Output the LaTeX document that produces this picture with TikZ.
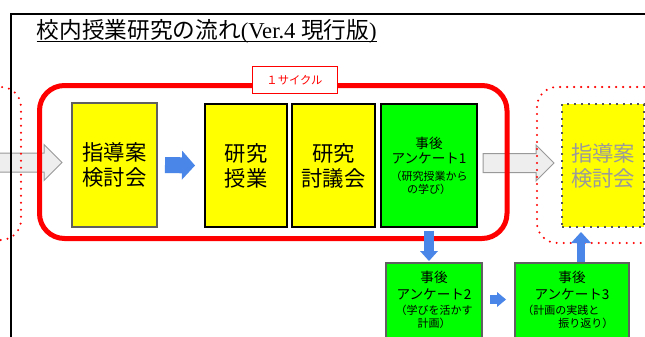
\documentclass[tikz,border=0pt]{standalone}
\usepackage{fontspec}
\setmainfont{Noto Sans CJK JP}
\newfontfamily\latserif{Liberation Serif}
\usetikzlibrary{arrows.meta,calc,backgrounds}
\definecolor{yellowc}{HTML}{FFFF00}
\definecolor{greenc}{HTML}{00FF00}
\definecolor{bluec}{HTML}{4A86E8}
\definecolor{redc}{HTML}{FF0000}
\definecolor{boxgray}{HTML}{606060}
\definecolor{arrowfill}{HTML}{EEEEEE}
\definecolor{arrowline}{HTML}{999999}
\definecolor{fadetext}{HTML}{9A9A9A}
\definecolor{dotgray}{HTML}{555555}
\newcommand{\grayblock}[5]{%
  \filldraw[grayarrow] let \p1=(#1), \p2=(#2) in
  (\x1,\y1+#3) -- (\x2-#5,\y1+#3) -- (\x2-#5,\y1+#4) -- (\x2,\y1)
  -- (\x2-#5,\y1-#4) -- (\x2-#5,\y1-#3) -- (\x1,\y1-#3) -- cycle;}
\tikzset{
  grayarrow/.style={fill=arrowfill, draw=arrowline, line width=0.75pt},
  box/.style={draw, line width=1.5pt, inner sep=0pt, align=center},
  bigbox/.style={box, minimum height=92.25pt, fill=yellowc, font=\fontsize{16}{18.75}\selectfont},
  greenbox/.style={box, fill=greenc},
  ln/.style={inner sep=0pt, text height=0.8em, text depth=0.05em},
  lnmain/.style={ln, font=\fontsize{10.2}{12}\selectfont},
  lnsub/.style={ln, font=\fontsize{8.25}{10}\selectfont},
  barrow/.style n args={3}{draw=bluec, line width=#1,
    -{Triangle[line width=0pt, length=#2, width=#3, fill=bluec]}},
  reddots/.style={draw=redc, line width=1.7pt, line cap=round,
    dash pattern=on 0pt off 5.25pt, rounded corners=15pt},
}
\begin{document}
\begin{tikzpicture}[x=0.75pt,y=-0.75pt]
\useasboundingbox (0,0) rectangle (645,336);
\clip (0,0) rectangle (645,336);
% boxes
\node[bigbox, draw=boxgray, minimum width=63.75pt, minimum height=93pt] (box1) at (114.5,165) {指導案\\検討会};
\node[bigbox, minimum width=61.5pt] (box2) at (246,165.5) {研究\\授業};
\node[bigbox, minimum width=62.25pt] (box3) at (333.5,165.5) {研究\\討議会};
\node[greenbox, minimum width=72pt, minimum height=92.25pt] (box4) at (429,165.5) {};
\node[bigbox, draw=dotgray, dash pattern=on 1.5pt off 3.75pt, minimum width=61.5pt,
  text=fadetext] (box5) at (603,165.5) {指導案\\検討会};
\node[greenbox, draw=boxgray, minimum width=72pt, minimum height=58.5pt] (box6) at (434,302) {};
\node[greenbox, draw=boxgray, minimum width=85.5pt, minimum height=58.5pt] (box7) at (572,302) {};
% box 4 text
\node[lnmain] (t4a) at (429,143) {事後};
\node[lnmain] (t4b) at (429,158.5) {アンケート1};
\node[lnsub]  (t4c) at (429,175) {（研究授業から};
\node[lnsub]  (t4d) at (429,188.3) {の学び）};
% box 6 text
\node[lnmain] (t6a) at (434,277.5) {事後};
\node[lnmain] (t6b) at (434,294) {アンケート2};
\node[lnsub]  (t6c) at (434,309) {（学びを活かす};
\node[lnsub]  (t6d) at (434,322) {計画）};
% box 7 text
\node[lnmain] (t7a) at (572,277.5) {事後};
\node[lnmain] (t7b) at (572,294) {アンケート3};
\node[lnsub, anchor=west] (t7c) at (522,309) {（計画の実践と};
\node[lnsub, anchor=west] (t7d) at (558,322) {振り返り）};
% background: frame, gray arrows, cycle frames
\begin{scope}[on background layer]
  \fill[white] (0,0) rectangle (645,336);
  \coordinate (ga1s) at (-5,162.5);
  \grayblock{ga1s}{$(box1.west)+(-9,-2.5)$}{7.125pt}{13.5pt}{13.5pt}
  \grayblock{$(box4.east)+(5,-2.5)$}{$(box5.west)+(-7,-2.5)$}{7.125pt}{13.5pt}{13.5pt}
  \draw[line width=1.1pt] (660,14) -- (11,14) -- (11,350);
  \draw[redc, line width=3.75pt, rounded corners=18.75pt] (39.5,85.5) rectangle (507,238.5);
  \draw[reddots] (-120,87) rectangle (21,240);
  \draw[reddots] (537,87) rectangle (720,243);
\end{scope}
% cycle label
\node[draw=redc, line width=0.75pt, fill=white, text=redc, inner sep=0pt,
  minimum width=63.75pt, minimum height=20.25pt, font=\fontsize{8.5}{10}\selectfont]
  (cycle) at (294.5,80) {１サイクル};
% blue arrows
\draw[barrow={12pt}{9.75pt}{21.75pt}] ($(box1.east)+(7,0)$) -- ($(box2.west)+(-9,0)$);
\draw[barrow={7.5pt}{7.5pt}{13.5pt}] ($(box4.south)+(0,2.5)$) -- ($(box4.south |- box6.north)+(0,-1)$);
\draw[barrow={6.75pt}{6.75pt}{11.25pt}] ($(box6.east)+(7,-2.5)$) -- ($(box7.west)+(-8,-2.5)$);
\draw[barrow={6pt}{8.25pt}{15pt}] ($(box7.north)+(9,0)$) -- ($(box7.north |- box5.south)+(9,4)$);
% title
\node[anchor=base west, inner sep=0pt, font=\fontsize{17}{20}\selectfont] (title) at (36.5,38.7)
  {校内授業研究の流れ{\latserif (Ver.4 }現行版{\latserif )}};
\draw[line width=1pt] ($(title.base west)+(0,3)$) -- ($(title.base east)+(0,3)$);
\end{tikzpicture}
\end{document}
